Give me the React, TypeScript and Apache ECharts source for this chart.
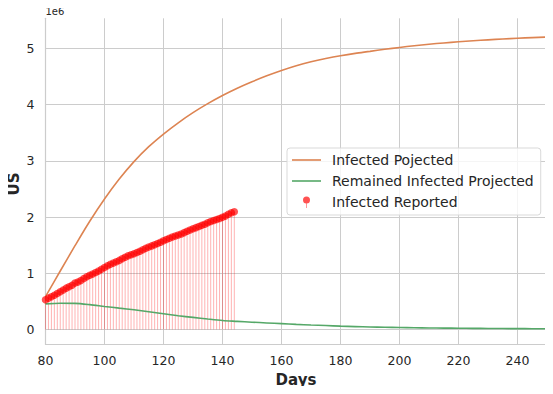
import React, { useEffect, useRef } from "react";
import * as echarts from "echarts";

// ---- data ----
const reportedStartDay = 80;
const reportedValues = [
  529951, 557571, 582594, 609516, 639664, 671331, 702164, 735086, 759687, 787752,
  825041, 842624, 869170, 905358, 938154, 965785, 988197, 1012582, 1039909, 1069424,
  1103461, 1132539, 1158040, 1180375, 1204351, 1228603, 1257023, 1283929, 1309550, 1329260,
  1347881, 1369376, 1390406, 1417774, 1442824, 1467820, 1486757, 1508308, 1528568, 1551853,
  1577147, 1600937, 1622612, 1643246, 1662302, 1680913, 1699176, 1721926, 1747087, 1770384,
  1790191, 1811277, 1831821, 1851520, 1872660, 1897380, 1920061, 1938823, 1956421, 1973797,
  1994283, 2016027, 2048986, 2074526, 2094069,
];

const projectedDays = [
  80, 85, 90, 95, 100, 105, 110, 115, 120, 125, 130, 135, 140, 145, 150, 155, 160, 165,
  170, 175, 180, 185, 190, 195, 200, 205, 210, 215, 220, 225, 230, 235, 240, 245, 250,
];
const infectedProjected = [
  585000, 1040000, 1490000, 1925000, 2320000, 2675000, 2985000, 3250000, 3475000, 3675000,
  3855000, 4015000, 4160000, 4290000, 4405000, 4510000, 4605000, 4690000, 4760000, 4818000,
  4868000, 4910000, 4945000, 4982000, 5015000, 5045000, 5072000, 5095000, 5116000, 5134000,
  5150000, 5165000, 5178000, 5190000, 5200000,
];
const remainedProjected = [
  455000, 466000, 464000, 442000, 410000, 380000, 350000, 315000, 280000, 245000,
  215000, 186000, 160000, 145000, 130000, 117000, 105000, 92000, 80000, 70000,
  60000, 52000, 45000, 40000, 35000, 31000, 28000, 25000, 23000, 21000,
  19000, 17000, 16000, 14000, 13000,
];

const xTickMin = 80;
const xTickMax = 250;
const xTickStep = 20;
const yMin = -263000;
const yMax = 5533000;

const FONT = "DejaVu Sans";
const TEXT = "#262626";
const GRID = "#cccccc";

export default function App() {
  const ref = useRef<HTMLDivElement>(null);

  useEffect(() => {
    if (!ref.current) return;
    const chart = echarts.init(ref.current, undefined, { renderer: "svg" });

    const reported = reportedValues.map((v, i) => [reportedStartDay + i, v]);
    const orange = projectedDays.map((d, i) => [d, infectedProjected[i]]);
    const green = projectedDays.map((d, i) => [d, remainedProjected[i]]);

    const dotIcon =
      "path://M0,0M29,14M18,5a3.5,3.5 0 1,0 -7,0a3.5,3.5 0 1,0 7,0zM14.2,8.5L14.8,8.5L14.8,13L14.2,13z";
    const lineIcon = "path://M0,0M29,14M0,6.2L29,6.2L29,7.8L0,7.8z";

    chart.setOption({
      animation: false,
      textStyle: { fontFamily: FONT },
      grid: { left: 45.5, right: 6, top: 18.3, bottom: 49.7, containLabel: false },
      xAxis: {
        type: "value",
        min: xTickMin,
        max: xTickMax,
        interval: xTickStep,
        axisLine: { show: true, onZero: false, lineStyle: { color: GRID, width: 1.2 } },
        axisTick: { show: false },
        axisLabel: {
          color: TEXT,
          fontSize: 12.5,
          fontFamily: FONT,
          margin: 9.5,
          showMaxLabel: false,
        },
        splitLine: { show: true, showMaxLine: false, lineStyle: { color: GRID, width: 1 } },
      },
      yAxis: {
        type: "value",
        min: yMin,
        max: yMax,
        axisLine: { show: true, lineStyle: { color: GRID, width: 1.2 } },
        axisTick: { show: false },
        axisLabel: {
          color: TEXT,
          fontSize: 12.5,
          fontFamily: FONT,
          margin: 11,
          showMinLabel: false,
          showMaxLabel: false,
          formatter: (v: number) => String(Math.round(v / 1e6)),
        },
        splitLine: {
          show: true,
          showMinLine: false,
          showMaxLine: false,
          lineStyle: { color: GRID, width: 1 },
        },
      },
      legend: {
        left: 287,
        top: 148,
        orient: "vertical",
        itemWidth: 29,
        itemHeight: 14,
        itemGap: 7,
        padding: [5, 7, 6, 5],
        backgroundColor: "rgba(255,255,255,0.8)",
        borderColor: "#d9d9d9",
        borderWidth: 1,
        borderRadius: 3,
        textStyle: { color: TEXT, fontSize: 14, fontFamily: FONT, padding: [0, 0, 0, 6] },
        data: [
          { name: "Infected Pojected", icon: lineIcon },
          { name: "Remained Infected Projected", icon: lineIcon },
          { name: "Infected Reported", icon: dotIcon },
        ],
      },
      graphic: [
        {
          type: "text",
          left: 45.5,
          top: 6,
          style: { text: "1e6", fontSize: 10, fill: TEXT, fontFamily: FONT },
        },
        {
          type: "text",
          x: 14,
          y: 184,
          rotation: Math.PI / 2,
          style: {
            text: "US",
            fontSize: 15,
            fontWeight: "bold",
            fill: TEXT,
            fontFamily: FONT,
            align: "center",
            verticalAlign: "middle",
          },
        },
        {
          type: "text",
          x: 296,
          y: 380,
          style: {
            text: "Days",
            fontSize: 15,
            fontWeight: "bold",
            fill: TEXT,
            fontFamily: FONT,
            align: "center",
            verticalAlign: "middle",
          },
        },
      ],
      series: [
        {
          name: "Reported stems",
          type: "bar",
          data: reported,
          barWidth: 1,
          itemStyle: { color: "rgba(255,0,0,0.3)" },
          silent: true,
          z: 1,
        },
        {
          name: "Infected Pojected",
          type: "line",
          data: orange,
          smooth: 0.3,
          symbol: "none",
          lineStyle: { color: "#dd8452", width: 1.6 },
          itemStyle: { color: "#dd8452" },
          z: 3,
        },
        {
          name: "Remained Infected Projected",
          type: "line",
          data: green,
          smooth: 0.3,
          symbol: "none",
          lineStyle: { color: "#55a868", width: 1.6 },
          itemStyle: { color: "#55a868" },
          z: 3,
        },
        {
          name: "Infected Reported",
          type: "scatter",
          data: reported,
          symbol: "circle",
          symbolSize: 7.5,
          itemStyle: { color: "rgba(255,0,0,0.85)" },
          z: 4,
        },
      ],
    });

    return () => chart.dispose();
  }, []);

  return <div ref={ref} style={{ width: 553, height: 394, margin: -8 }} />;
}
